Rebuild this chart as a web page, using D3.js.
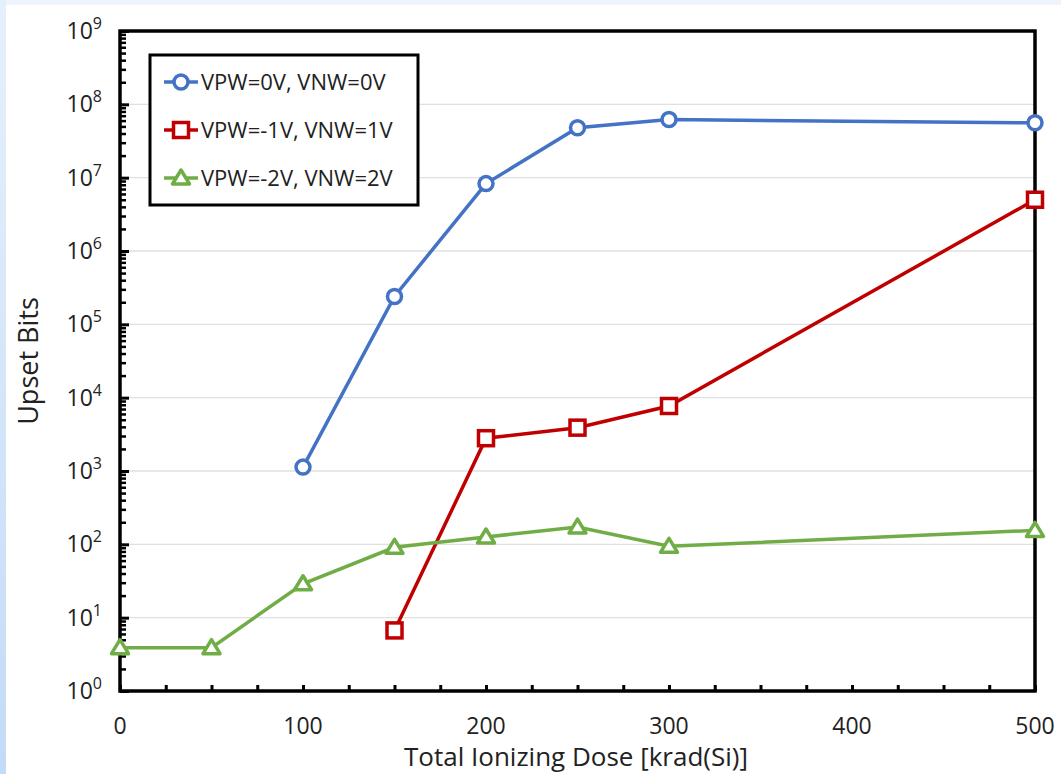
<!DOCTYPE html>
<html><head><meta charset="utf-8">
<script src="https://cdn.jsdelivr.net/npm/d3@7"></script>
<style>body{margin:0;background:#fff;} svg{display:block;}</style>
</head><body>
<svg id="c" width="1061" height="774"></svg>
<script>
const seriesNames = ["VPW=0V, VNW=0V", "VPW=-1V, VNW=1V", "VPW=-2V, VNW=2V"];
const blueX = [100, 150, 200, 250, 300, 500];
const blueY = [1130, 2.4e5, 8.3e6, 4.8e7, 6.2e7, 5.6e7];
const redX = [150, 200, 250, 300, 500];
const redY = [6.7, 2800, 3900, 7700, 5.0e6];
const greenX = [0, 50, 100, 150, 200, 250, 300, 500];
const greenY = [3.9, 3.9, 29, 91, 126, 172, 94, 155];
const xTicks = [0, 100, 200, 300, 400, 500];
const yExps = [0,1,2,3,4,5,6,7,8,9];

const svg = d3.select("#c");
const font = "'Open Sans', 'Liberation Sans', sans-serif";
// background strips
svg.append("rect").attr("x",0).attr("y",0).attr("width",1061).attr("height",774).attr("fill","#fff");
svg.append("rect").attr("x",0).attr("y",0).attr("width",1061).attr("height",5).attr("fill","#eef4fc");
const grad = svg.append("defs").append("linearGradient").attr("id","lg").attr("x1",0).attr("x2",0).attr("y1",0).attr("y2",1);
grad.append("stop").attr("offset","0").attr("stop-color","#e6f0fc");
grad.append("stop").attr("offset","1").attr("stop-color","#c3dbf7");
svg.append("rect").attr("x",0).attr("y",0).attr("width",6).attr("height",774).attr("fill","url(#lg)");

const L=120, R=1035, T=31, B=691;
const x = d3.scaleLinear().domain([0,500]).range([L,R]);
const y = d3.scaleLog().domain([1,1e9]).range([B,T]);

// gridlines
svg.append("g").selectAll("line").data(yExps.slice(1,9)).join("line")
  .attr("x1",L).attr("x2",R).attr("y1",d=>y(Math.pow(10,d))).attr("y2",d=>y(Math.pow(10,d)))
  .attr("stroke","#e0e0e0").attr("stroke-width",1.3);

// y ticks (inside)
const yMinor = [];
for (let e=0;e<9;e++) for (let m=2;m<=9;m++) yMinor.push(m*Math.pow(10,e));
svg.append("g").attr("transform",`translate(${L},0)`)
  .call(d3.axisRight(y).tickValues(yMinor).tickSize(6).tickFormat(""))
  .call(g=>{g.select(".domain").remove(); g.selectAll("line").attr("stroke","#000").attr("stroke-width",2.5);});
svg.append("g").attr("transform",`translate(${L},0)`)
  .call(d3.axisRight(y).tickValues(yExps.map(e=>Math.pow(10,e))).tickSize(9).tickFormat(""))
  .call(g=>{g.select(".domain").remove(); g.selectAll("line").attr("stroke","#000").attr("stroke-width",3);});

// x ticks (inside)
const xMinor = d3.range(0,501,25);
svg.append("g").attr("transform",`translate(0,${B})`)
  .call(d3.axisTop(x).tickValues(xMinor).tickSize(6).tickFormat(""))
  .call(g=>{g.select(".domain").remove(); g.selectAll("line").attr("stroke","#000").attr("stroke-width",3);});

// frame
svg.append("rect").attr("x",L).attr("y",T).attr("width",R-L).attr("height",B-T)
  .attr("fill","none").attr("stroke","#000").attr("stroke-width",3.5);

// y tick labels
const yl = svg.append("g");
yExps.forEach(e=>{
  const t = yl.append("text").attr("x",102).attr("y",y(Math.pow(10,e))+8)
    .attr("text-anchor","end").attr("font-family",font).attr("font-size",23).attr("fill","#222");
  t.append("tspan").text("10");
  t.append("tspan").attr("font-size",16).attr("dy",-10).text(e);
});
// x tick labels
svg.append("g").selectAll("text").data(xTicks).join("text")
  .attr("x",d=>x(d)).attr("y",734).attr("text-anchor","middle")
  .attr("font-family",font).attr("font-size",23).attr("fill","#222").text(d=>d);

// axis titles
svg.append("text").attr("x",576).attr("y",766).attr("text-anchor","middle")
  .attr("font-family",font).attr("font-size",26).attr("fill","#222").text("Total Ionizing Dose [krad(Si)]");
svg.append("text").attr("transform","translate(38,361) rotate(-90)").attr("text-anchor","middle")
  .attr("font-family",font).attr("font-size",27).attr("fill","#222").text("Upset Bits");

const colors = ["#4472c4","#c00000","#70ad47"];
const series = [
  {xs:blueX, ys:blueY, c:colors[0], shape:"circle"},
  {xs:redX, ys:redY, c:colors[1], shape:"square"},
  {xs:greenX, ys:greenY, c:colors[2], shape:"triangle"}
];
const line = d3.line().x(d=>x(d[0])).y(d=>y(d[1]));
function marker(g, shape, cx, cy, c){
  if(shape==="circle") g.append("circle").attr("cx",cx).attr("cy",cy).attr("r",7).attr("fill","#fff").attr("stroke",c).attr("stroke-width",3.5);
  else if(shape==="square") g.append("rect").attr("x",cx-7.5).attr("y",cy-7.5).attr("width",15).attr("height",15).attr("fill","#fff").attr("stroke",c).attr("stroke-width",3.5);
  else g.append("path").attr("d",`M${cx},${cy-8}L${cx+8.5},${cy+6}L${cx-8.5},${cy+6}Z`).attr("fill","#fff").attr("stroke",c).attr("stroke-width",3.5).attr("stroke-linejoin","round");
}
series.forEach(s=>{
  const pts = s.xs.map((v,i)=>[v,s.ys[i]]);
  svg.append("path").datum(pts).attr("d",line).attr("fill","none").attr("stroke",s.c).attr("stroke-width",3.5);
  const g = svg.append("g");
  pts.forEach(p=>marker(g,s.shape,x(p[0]),y(p[1]),s.c));
});

// legend
const lg = svg.append("g");
lg.append("rect").attr("x",150).attr("y",55).attr("width",268).attr("height",150)
  .attr("fill","#fff").attr("stroke","#000").attr("stroke-width",3);
const ly = [82,130,178];
series.forEach((s,i)=>{
  lg.append("line").attr("x1",164).attr("x2",198).attr("y1",ly[i]).attr("y2",ly[i]).attr("stroke",s.c).attr("stroke-width",3.5);
  marker(lg,s.shape,181,ly[i],s.c);
  lg.append("text").attr("x",201).attr("y",ly[i]+8).attr("font-family",font).attr("font-size",22).attr("fill","#222").text(seriesNames[i]);
});
</script>
</body></html>
